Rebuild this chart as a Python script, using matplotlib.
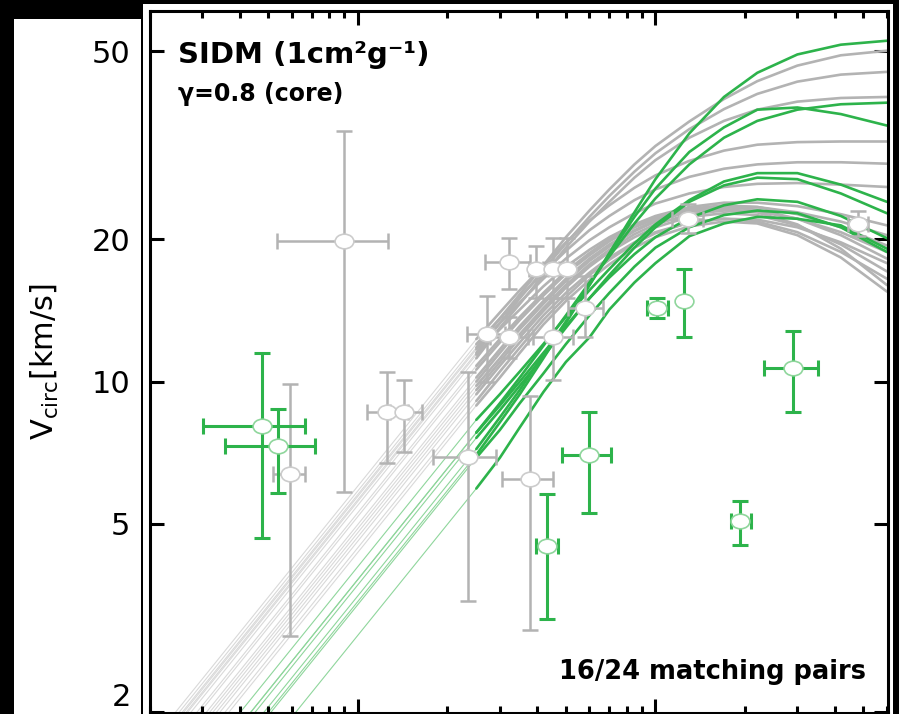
import matplotlib
matplotlib.use('Agg')
import matplotlib.pyplot as plt
import numpy as np
from matplotlib.path import Path
from matplotlib.patches import Rectangle
from matplotlib.ticker import FixedLocator, FixedFormatter, LogLocator, NullLocator, NullFormatter

# radii (kpc) where the resolved part of each rotation curve is sampled
r_grid = [0.25, 0.3, 0.35, 0.42, 0.5, 0.6, 0.7, 0.85, 1.0, 1.3, 1.7, 2.2, 3.0, 4.2, 6.0]

# non-matching haloes (grey): V_circ in km/s on r_grid
grey_curves = [
    [11.8, 13.6, 15.3, 17.6, 20.2, 23.0, 25.5, 28.8, 31.5, 35.5, 39.6, 43.2, 46.6, 49.0, 50.1],
    [11.5, 13.3, 15.0, 17.2, 19.6, 22.3, 24.7, 27.8, 30.4, 34.2, 37.7, 40.6, 43.1, 44.6, 45.2],
    [11.2, 13.0, 14.6, 16.8, 19.2, 21.8, 24.0, 27.0, 29.4, 32.8, 35.6, 37.6, 39.1, 39.8, 40.0],
    [12.3, 14.0, 15.6, 17.6, 19.7, 21.9, 23.6, 25.7, 27.3, 29.3, 30.8, 31.7, 32.1, 32.2, 32.2],
    [12.0, 13.6, 15.1, 17.0, 18.9, 20.9, 22.4, 24.2, 25.5, 27.1, 28.2, 28.8, 29.1, 29.1, 28.9],
    [11.7, 13.3, 14.7, 16.5, 18.2, 19.9, 21.2, 22.7, 23.8, 25.0, 25.8, 26.2, 26.3, 26.1, 25.8],
    [11.4, 12.9, 14.2, 15.9, 17.5, 19.0, 20.2, 21.5, 22.4, 23.4, 23.9, 23.9, 23.5, 22.6, 21.4],
    [10.6, 12.1, 13.5, 15.2, 16.9, 18.5, 19.8, 21.2, 22.1, 23.1, 23.5, 23.4, 22.8, 21.8, 20.4],
    [10.8, 12.3, 13.7, 15.4, 17.1, 18.7, 20.0, 21.3, 22.2, 23.2, 23.6, 23.4, 22.6, 21.2, 19.4],
    [9.8, 11.2, 12.6, 14.3, 16.0, 17.7, 19.0, 20.5, 21.5, 22.6, 23.0, 22.9, 22.1, 20.7, 18.8],
    [10.2, 11.7, 13.1, 14.8, 16.5, 18.2, 19.5, 20.9, 21.9, 23.0, 23.4, 23.1, 22.1, 20.4, 18.2],
    [9.4, 10.8, 12.1, 13.8, 15.4, 17.0, 18.3, 19.7, 20.7, 21.7, 22.1, 22.0, 21.2, 19.7, 17.8],
    [9.6, 11.0, 12.4, 14.1, 15.8, 17.5, 18.8, 20.2, 21.2, 22.3, 22.7, 22.5, 21.4, 19.5, 17.1],
    [9.1, 10.5, 11.8, 13.5, 15.1, 16.8, 18.1, 19.6, 20.6, 21.7, 22.1, 21.8, 20.7, 18.8, 16.5],
    [10.0, 11.5, 12.9, 14.6, 16.3, 18.0, 19.3, 20.8, 21.8, 22.9, 23.2, 22.8, 21.5, 19.1, 16.0],
    [8.9, 10.2, 11.5, 13.2, 14.8, 16.4, 17.7, 19.2, 20.2, 21.3, 21.8, 21.6, 20.4, 18.3, 15.5],
]
# radius where the unresolved inner extrapolation crosses 2 km/s
grey_r_in = [0.0257, 0.0265, 0.0275, 0.0244, 0.0251, 0.0260, 0.0268, 0.0295,
             0.0288, 0.0326, 0.0310, 0.0344, 0.0335, 0.0358, 0.0318, 0.0369]

# matching haloes (green)
green_curves = [
    [7.0, 8.2, 9.4, 11.2, 13.3, 16.0, 18.7, 22.8, 26.8, 33.5, 40.0, 45.0, 49.2, 51.6, 52.6],
    [7.8, 9.0, 10.2, 11.9, 13.8, 16.2, 18.4, 21.6, 24.4, 28.8, 32.8, 35.6, 37.6, 38.6, 38.9],
    [7.2, 8.4, 9.6, 11.4, 13.4, 16.0, 18.6, 22.3, 25.6, 30.6, 34.5, 37.6, 38.0, 36.8, 34.8],
    [8.3, 9.4, 10.5, 12.0, 13.7, 15.6, 17.3, 19.6, 21.5, 24.2, 26.5, 27.6, 27.6, 26.1, 24.0],
    [7.6, 8.7, 9.8, 11.3, 13.0, 15.0, 16.8, 19.2, 21.2, 24.0, 26.0, 27.0, 26.8, 25.0, 22.7],
    [7.8, 8.9, 10.0, 11.5, 13.1, 15.0, 16.6, 18.6, 20.2, 22.2, 23.6, 24.3, 24.0, 22.4, 20.1],
    [6.9, 7.9, 9.0, 10.4, 12.0, 13.8, 15.4, 17.5, 19.2, 21.2, 22.5, 23.0, 22.7, 21.2, 18.8],
    [5.94, 6.9, 8.0, 9.5, 11.0, 12.4, 14.2, 16.2, 17.8, 20.3, 21.6, 22.3, 22.1, 21.4, 19.1],
]
green_r_in = [0.0501, 0.0437, 0.0484, 0.0403, 0.0452, 0.0437, 0.0511, 0.0619]

# galaxies without a match (grey): r_1/2, its range, V_circ, its range
grey_r = [0.0591, 0.0897, 0.125, 0.143, 0.234, 0.379, 0.272, 0.322,
          0.322, 0.397, 0.454, 0.506, 0.454, 0.581, 1.29, 4.79]
grey_r_lo = [0.0518, 0.0534, 0.107, 0.128, 0.179, 0.305, 0.233, 0.278,
             0.268, 0.375, 0.435, 0.485, 0.388, 0.509, 1.14, 4.43]
grey_r_hi = [0.0663, 0.126, 0.147, 0.164, 0.292, 0.454, 0.312, 0.373,
             0.379, 0.420, 0.475, 0.528, 0.530, 0.668, 1.45, 5.17]
grey_v = [6.36, 19.8, 8.64, 8.64, 6.94, 6.21, 12.6, 12.4,
          17.9, 17.3, 17.3, 17.3, 12.4, 14.3, 22.1, 21.5]
grey_v_lo = [2.90, 5.83, 6.74, 7.11, 3.43, 2.98, 10.0, 11.2,
             15.7, 15.0, 15.0, 15.0, 10.1, 12.4, 20.6, 20.3]
grey_v_hi = [9.90, 33.9, 10.5, 10.1, 10.5, 9.34, 15.2, 13.7,
             20.1, 19.4, 20.1, 20.1, 15.0, 16.7, 23.8, 22.9]

# galaxies with a matching halo (green)
green_r = [0.0475, 0.0538, 0.433, 0.600, 1.01, 1.25, 1.93, 2.89]
green_r_lo = [0.0301, 0.0357, 0.397, 0.486, 0.940, 1.25, 1.79, 2.31]
green_r_hi = [0.0663, 0.0717, 0.471, 0.711, 1.10, 1.25, 2.10, 3.51]
green_v = [8.04, 7.32, 4.48, 6.98, 14.3, 14.8, 5.06, 10.7]
green_v_lo = [4.66, 5.80, 3.15, 5.28, 13.6, 12.4, 4.50, 8.64]
green_v_hi = [11.5, 8.77, 5.77, 8.64, 15.0, 17.3, 5.60, 12.8]

y_ticks = [2, 5, 10, 20, 50]

GREY = '#b3b3b3'
GREEN = '#2db34b'

plt.rcParams['font.family'] = 'DejaVu Sans'

fig = plt.figure(figsize=(8.99, 7.14), dpi=100, facecolor='black')
# white panels behind the axis label and the plot
fig.add_artist(Rectangle((14 / 899, 0), 127 / 899, 695 / 714, transform=fig.transFigure,
                         facecolor='white', edgecolor='none', zorder=0))
fig.add_artist(Rectangle((143 / 899, 0), 750 / 899, 710 / 714, transform=fig.transFigure,
                         facecolor='white', edgecolor='none', zorder=0))

ax = fig.add_axes([150 / 899, 1 / 714, 738 / 899, 702 / 714])
ax.set_facecolor('white')
ax.set_xscale('log')
ax.set_yscale('log')
ax.set_xlim(0.02, 6.05)
ax.set_ylim(1.99, 60.8)


def draw_curves(curves, r_in, color, thin_color):
    for v, r0 in zip(curves, r_in):
        ax.plot([r0, r_grid[0]], [2.0, v[0]], color=thin_color, lw=0.8, zorder=1)
    for v in curves:
        ax.plot(r_grid, v, color=color, lw=1.9, zorder=2,
                solid_joinstyle='round', solid_capstyle='round')


draw_curves(grey_curves, grey_r_in, GREY, '#d9d9d9')
draw_curves(green_curves, green_r_in, GREEN, '#8fd69c')

# slightly flattened circle for the data points
circ = Path.unit_circle()
ellipse = Path(circ.vertices * [1.0, 0.78], circ.codes)


def draw_points(r, r_lo, r_hi, v, v_lo, v_hi, color, edge, lw):
    xerr = [np.subtract(r, r_lo), np.subtract(r_hi, r)]
    yerr = [np.subtract(v, v_lo), np.subtract(v_hi, v)]
    ax.errorbar(r, v, xerr=xerr, yerr=yerr, fmt='none', ecolor=color,
                elinewidth=lw, capsize=5.5, capthick=lw, zorder=4)
    ax.plot(r, v, linestyle='none', marker=ellipse, ms=13.5, mfc='white',
            mec=edge, mew=1.2, zorder=5)


draw_points(grey_r, grey_r_lo, grey_r_hi, grey_v, grey_v_lo, grey_v_hi,
            GREY, '#cccccc', 1.8)
draw_points(green_r, green_r_lo, green_r_hi, green_v, green_v_lo, green_v_hi,
            GREEN, '#8fd69c', 2.2)

# ticks and frame
for s in ax.spines.values():
    s.set_linewidth(2.2)
ax.yaxis.set_major_locator(FixedLocator(y_ticks))
# the bottom label sits on the frame, so it is placed by hand below
ax.yaxis.set_major_formatter(FixedFormatter([''] + [str(t) for t in y_ticks[1:]]))
ax.yaxis.set_minor_locator(NullLocator())
ax.xaxis.set_major_locator(LogLocator(base=10))
ax.xaxis.set_minor_locator(LogLocator(base=10, subs=np.arange(2, 10)))
ax.xaxis.set_minor_formatter(NullFormatter())
ax.tick_params(which='both', direction='in', top=True, right=True,
               width=2.2, color='black')
ax.tick_params(which='major', length=10)
ax.tick_params(which='minor', length=5)
ax.tick_params(axis='x', labelbottom=False)
ax.tick_params(axis='y', labelsize=22, pad=14)

fig.text(131 / 899, 1 - 697 / 714, str(y_ticks[0]), ha='right', va='center',
         fontsize=22)
fig.text(45 / 899, 1 - 362 / 714, r'V$_{\rm circ}$[km/s]', rotation=90,
         ha='center', va='center', fontsize=22)
fig.text(178 / 899, 1 - 55 / 714, 'SIDM (1cm²g⁻¹)', ha='left', va='center',
         fontsize=21, fontweight='bold')
fig.text(178 / 899, 1 - 94 / 714, 'γ=0.8 (core)', ha='left', va='center',
         fontsize=17, fontweight='bold')
fig.text(866 / 899, 1 - 672 / 714, '16/24 matching pairs', ha='right',
         va='center', fontsize=18.5, fontweight='bold')

fig.savefig('out.png', dpi=100, facecolor='black')
